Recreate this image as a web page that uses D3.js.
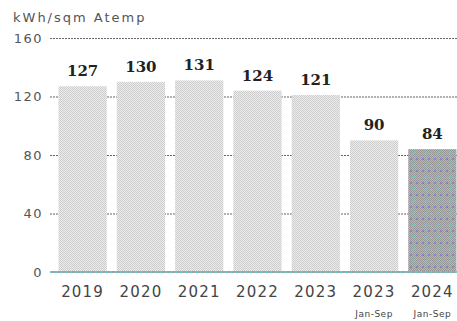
<!DOCTYPE html>
<html>
<head>
<meta charset="utf-8">
<script src="https://cdn.jsdelivr.net/npm/d3@7"></script>
<style>
  html, body { margin: 0; padding: 0; background: #fff; }
  svg { display: block; }
</style>
</head>
<body>
<div id="chart"></div>
<script>
// Energy use per square metre of heated floor area (Atemp)
const years = ["2019", "2020", "2021", "2022", "2023", "2023", "2024"];
const periods = ["", "", "", "", "", "Jan-Sep", "Jan-Sep"];
const values = [127, 130, 131, 124, 121, 90, 84];
const highlighted = [false, false, false, false, false, false, true];
const yTicks = [0, 40, 80, 120, 160];
const unitLabel = "kWh/sqm Atemp";

const W = 457, H = 321;
const svg = d3.select("#chart").append("svg").attr("width", W).attr("height", H);

const defs = svg.append("defs");

// fine grey stipple for the full-year bars
const pLight = defs.append("pattern").attr("id", "stipple").attr("patternUnits", "userSpaceOnUse")
  .attr("width", 2).attr("height", 2);
pLight.append("rect").attr("width", 2).attr("height", 2).attr("fill", "#ececec");
pLight.append("rect").attr("x", 0).attr("y", 0).attr("width", 1).attr("height", 1).attr("fill", "#cdcdcd");
pLight.append("rect").attr("x", 1).attr("y", 1).attr("width", 1).attr("height", 1).attr("fill", "#cdcdcd");

// darker stipple with coloured dots for the latest period
const pDark = defs.append("pattern").attr("id", "dots").attr("patternUnits", "userSpaceOnUse")
  .attr("width", 12).attr("height", 12);
pDark.append("rect").attr("width", 12).attr("height", 12).attr("fill", "#b8b8b8");
for (let i = 0; i < 12; i += 2) {
  for (let j = 0; j < 12; j += 2) {
    pDark.append("rect").attr("x", i).attr("y", j).attr("width", 1).attr("height", 1).attr("fill", "#959595");
    pDark.append("rect").attr("x", i + 1).attr("y", j + 1).attr("width", 1).attr("height", 1).attr("fill", "#959595");
  }
}
[[2, 2, "#7f84d8"], [8, 2, "#7f84d8"], [5, 8, "#4fd3d3"], [11, 8, "#4fd3d3"]].forEach(([x, y, c]) => {
  pDark.append("rect").attr("x", x).attr("y", y).attr("width", 2).attr("height", 2).attr("fill", c);
});

const x = d3.scaleBand().domain(d3.range(values.length)).range([58.5, 456.5])
  .paddingInner(0.172).paddingOuter(0);
const y = d3.scaleLinear().domain([0, 160]).range([272, 38]);

// unit label
svg.append("text").attr("x", 13).attr("y", 22)
  .attr("font-family", "DejaVu Sans, sans-serif").attr("font-size", 13)
  .attr("letter-spacing", 2).attr("fill", "#555").text(unitLabel);

// y axis: labels plus dashed gridlines behind the bars
const yAxis = d3.axisLeft(y).tickValues(yTicks).tickSize(-(W - 50)).tickPadding(7);
const gy = svg.append("g").attr("transform", "translate(50,0)").call(yAxis);
gy.select(".domain").remove();
gy.selectAll(".tick line").attr("stroke", "#666").attr("stroke-width", 1.2)
  .attr("stroke-dasharray", "2,1");
gy.selectAll(".tick").filter(d => d === 0).select("line").remove();
gy.selectAll(".tick text")
  .attr("font-family", "DejaVu Sans, sans-serif").attr("font-size", 13)
  .attr("letter-spacing", 1.5).attr("fill", "#555");

// bars
svg.append("g").selectAll("rect").data(values).join("rect")
  .attr("x", (d, i) => x(i)).attr("width", x.bandwidth())
  .attr("y", d => y(d)).attr("height", d => y(0) - y(d))
  .attr("fill", (d, i) => highlighted[i] ? "url(#dots)" : "url(#stipple)");

// value labels
svg.append("g").selectAll("text").data(values).join("text")
  .attr("x", (d, i) => x(i) + x.bandwidth() / 2)
  .attr("y", d => y(d) - 10)
  .attr("text-anchor", "middle")
  .attr("font-family", "DejaVu Serif, serif").attr("font-weight", "bold")
  .attr("font-size", 15).attr("fill", "#222")
  .text(d => d);

// baseline
svg.append("line").attr("x1", 50).attr("x2", W).attr("y1", y(0)).attr("y2", y(0))
  .attr("stroke", "#9aa3a3").attr("stroke-width", 2);
svg.append("line").attr("x1", 50).attr("x2", W).attr("y1", y(0)).attr("y2", y(0))
  .attr("stroke", "#5ccccc").attr("stroke-width", 2).attr("stroke-dasharray", "2,3");

// category labels
const gx = svg.append("g");
gx.selectAll("text.year").data(years).join("text").attr("class", "year")
  .attr("x", (d, i) => x(i) + x.bandwidth() / 2).attr("y", 297)
  .attr("text-anchor", "middle")
  .attr("font-family", "DejaVu Sans, sans-serif").attr("font-size", 15)
  .attr("letter-spacing", 1.2).attr("fill", "#444")
  .text(d => d);
gx.selectAll("text.period").data(periods).join("text").attr("class", "period")
  .attr("x", (d, i) => x(i) + x.bandwidth() / 2).attr("y", 317)
  .attr("text-anchor", "middle")
  .attr("font-family", "DejaVu Sans, sans-serif").attr("font-size", 9)
  .attr("letter-spacing", 0.5).attr("fill", "#444")
  .text(d => d);
</script>
</body>
</html>
